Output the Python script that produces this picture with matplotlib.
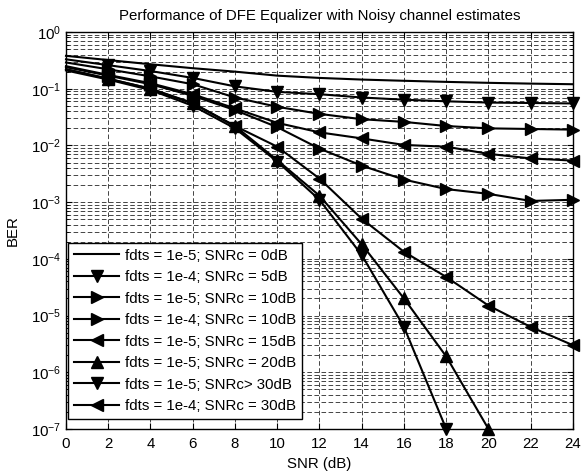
import numpy as np
import matplotlib.pyplot as plt
from matplotlib.ticker import LogLocator, NullFormatter, FixedLocator

plt.rcParams['font.family'] = ['Liberation Sans', 'DejaVu Sans']
plt.rcParams['mathtext.fontset'] = 'custom'
plt.rcParams['mathtext.rm'] = 'Liberation Sans'

# SNR axis (dB)
snr = [0, 2, 4, 6, 8, 10, 12, 14, 16, 18, 20, 22, 24]

# BER curves
ber_5_0 = [0.38, 0.32, 0.27, 0.23, 0.20, 0.17, 0.155, 0.145, 0.138, 0.132, 0.127, 0.123, 0.12]
ber_4_5 = [0.33, 0.26, 0.205, 0.155, 0.11, 0.088, 0.08, 0.07, 0.064, 0.06, 0.057, 0.056, 0.055]
ber_5_10 = [0.29, 0.22, 0.165, 0.12, 0.07, 0.048, 0.036, 0.029, 0.026, 0.022, 0.020, 0.0195, 0.019]
ber_4_10 = [0.24, 0.17, 0.12, 0.075, 0.042, 0.021, 0.0088, 0.0044, 0.0025, 0.0017, 0.0014, 0.00105, 0.0011]
ber_5_15 = [0.25, 0.175, 0.125, 0.08, 0.045, 0.025, 0.017, 0.0133, 0.0102, 0.0095, 0.0071, 0.0059, 0.0054]
ber_5_20 = [0.22, 0.15, 0.10, 0.055, 0.022, 0.0055, 0.0013, 1.8e-4, 2.0e-5, 1.9e-6, 1e-7]
ber_5_30 = [0.21, 0.145, 0.095, 0.05, 0.02, 0.0052, 0.0011, 1.17e-4, 6.3e-6, 1e-7]
ber_4_30 = [0.22, 0.15, 0.10, 0.056, 0.022, 0.0095, 0.0026, 5.1e-4, 1.33e-4, 4.8e-5, 1.5e-5, 6.3e-6, 3.0e-6]

labels = ['fdts = 1e-5; SNRc = 0dB', 'fdts = 1e-4; SNRc = 5dB',
          'fdts = 1e-5; SNRc = 10dB', 'fdts = 1e-4; SNRc = 10dB',
          'fdts = 1e-5; SNRc = 15dB', 'fdts = 1e-5; SNRc = 20dB',
          'fdts = 1e-5; SNRc> 30dB', 'fdts = 1e-4; SNRc = 30dB']
xticks = [0, 2, 4, 6, 8, 10, 12, 14, 16, 18, 20, 22, 24]
yticks = [1e-7, 1e-6, 1e-5, 1e-4, 1e-3, 1e-2, 1e-1, 1e0]

series = [ber_5_0, ber_4_5, ber_5_10, ber_4_10, ber_5_15, ber_5_20, ber_5_30, ber_4_30]
markers = [None, 'v', '>', '>', '<', '^', 'v', '<']

FS = 10.8

fig = plt.figure(figsize=(5.82, 4.72), dpi=100)
ax = fig.add_axes([0.1134, 0.0911, 0.8711, 0.8411])

for ber, m, lab in zip(series, markers, labels):
    ax.semilogy(snr[:len(ber)], ber, color='black', lw=1.5, marker=m,
                markersize=8.5, markevery=slice(1, None), label=lab, clip_on=False)

ax.set_xlim(0, 24)
ax.set_ylim(1e-7, 1)
ax.set_xticks(xticks)
ax.yaxis.set_major_locator(FixedLocator(yticks))
ax.set_yticklabels([r'$\mathregular{10^{%d}}$' % int(np.log10(v)) for v in yticks])
ax.yaxis.set_minor_locator(LogLocator(base=10, subs=np.arange(2, 10)))
ax.yaxis.set_minor_formatter(NullFormatter())

grid_kw = dict(color='0.15', linestyle=(0, (5.5, 3)), linewidth=0.6)
ax.grid(True, which='major', axis='both', **grid_kw)
ax.grid(True, which='minor', axis='y', **grid_kw)
ax.set_axisbelow(True)

ax.tick_params(which='both', direction='in', top=True, right=True, labelsize=FS)
ax.tick_params(axis='x', which='major', pad=6)
ax.tick_params(which='major', length=4)
ax.tick_params(which='minor', length=2)
for s in ax.spines.values():
    s.set_linewidth(1.0)

ax.set_xlabel('SNR (dB)', fontsize=FS, labelpad=4)
ax.set_ylabel('BER', fontsize=FS, labelpad=8)
ax.set_title('Performance of DFE Equalizer with Noisy channel estimates', fontsize=FS, pad=9)

leg = ax.legend(loc='lower left', bbox_to_anchor=(0.004, 0.025), borderaxespad=0,
                fontsize=FS, handlelength=3.0, labelspacing=0.5, handletextpad=0.4,
                fancybox=False, edgecolor='black', framealpha=1, borderpad=0.4)
leg.get_frame().set_linewidth(1.0)

plt.savefig('out.png', dpi=100)
